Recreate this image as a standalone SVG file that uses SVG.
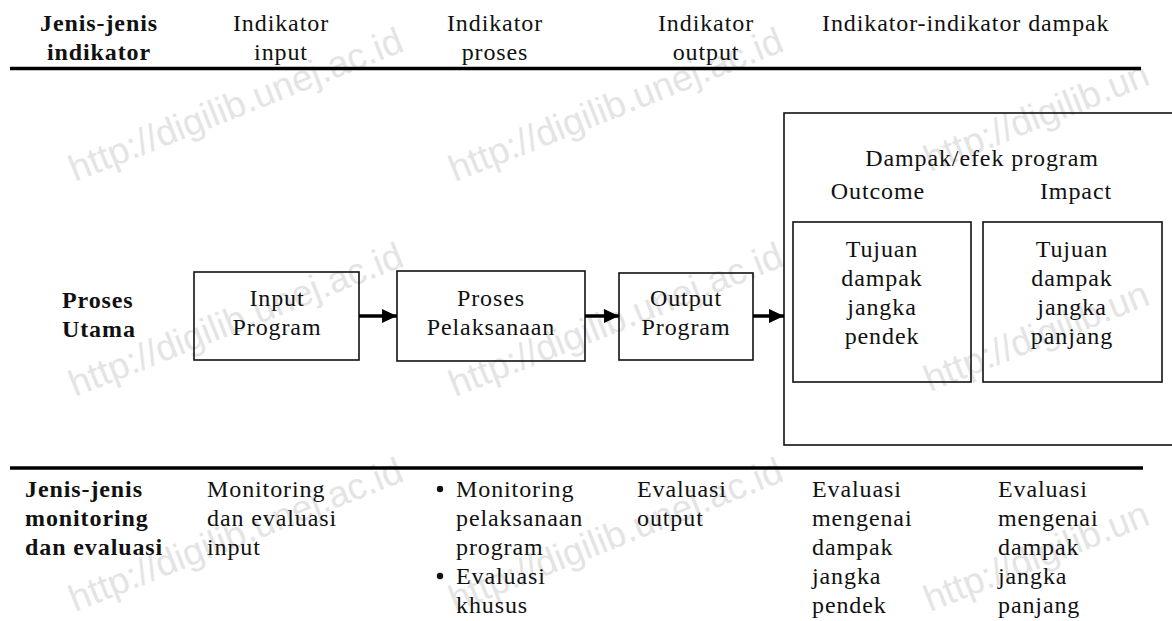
<svg xmlns="http://www.w3.org/2000/svg" width="1172" height="621" viewBox="0 0 1172 621">
<defs>
<style>
.t{font-family:"Liberation Serif","Times New Roman",serif;font-size:24px;letter-spacing:0.9px;fill:#111;}
.b{font-weight:bold;}
.c{text-anchor:middle;}
.box{fill:none;stroke:#111;stroke-width:1.6;}
.rule{stroke:#000;stroke-width:3.5;}
.arr{stroke:#000;stroke-width:3.5;fill:none;}
.wm{font-family:"Liberation Sans",Arial,sans-serif;font-size:37px;fill:#e4e4e4;}
</style>
<marker id="ah" markerUnits="userSpaceOnUse" markerWidth="15" markerHeight="14" refX="15" refY="7" orient="auto">
<path d="M0,0 L15,7 L0,14 z" fill="#000"/>
</marker>
</defs>
<rect width="1172" height="621" fill="#fff"/>
<g id="watermark">
<text class="wm" transform="translate(75,182) rotate(-21.7)">http://digilib.unej.ac.id</text>
<text class="wm" transform="translate(455,182) rotate(-21.7)">http://digilib.unej.ac.id</text>
<text class="wm" transform="translate(930,172) rotate(-21.7)">http://digilib.un</text>
<text class="wm" transform="translate(75,397) rotate(-21.7)">http://digilib.unej.ac.id</text>
<text class="wm" transform="translate(455,397) rotate(-21.7)">http://digilib.unej.ac.id</text>
<text class="wm" transform="translate(930,392) rotate(-21.7)">http://digilib.un</text>
<text class="wm" transform="translate(75,612) rotate(-21.7)">http://digilib.unej.ac.id</text>
<text class="wm" transform="translate(455,612) rotate(-21.7)">http://digilib.unej.ac.id</text>
<text class="wm" transform="translate(930,612) rotate(-21.7)">http://digilib.un</text>
</g>
<g id="header">
<text class="t b c" x="99" y="31">Jenis-jenis</text>
<text class="t b c" x="99" y="60">indikator</text>
<text class="t c" x="281" y="31">Indikator</text>
<text class="t c" x="281" y="60">input</text>
<text class="t c" x="495" y="31">Indikator</text>
<text class="t c" x="495" y="60">proses</text>
<text class="t c" x="706" y="31">Indikator</text>
<text class="t c" x="706" y="60">output</text>
<text class="t" x="822" y="31">Indikator-indikator dampak</text>
<line class="rule" x1="10" y1="68.5" x2="1141" y2="68.5"/>
</g>
<g id="row-label">
<text class="t b" x="62" y="308">Proses</text>
<text class="t b" x="62" y="337">Utama</text>
</g>
<g id="node-input">
<rect class="box" x="194" y="272" width="165" height="88"/>
<text class="t c" x="277" y="306">Input</text>
<text class="t c" x="277" y="335">Program</text>
</g>
<g id="node-proses">
<rect class="box" x="397" y="271" width="188" height="90"/>
<text class="t c" x="491" y="306">Proses</text>
<text class="t c" x="491" y="335">Pelaksanaan</text>
</g>
<g id="node-output">
<rect class="box" x="619" y="273" width="134" height="87"/>
<text class="t c" x="686" y="306">Output</text>
<text class="t c" x="686" y="335">Program</text>
</g>
<g id="node-dampak">
<rect class="box" x="784" y="113" width="420" height="332"/>
<text class="t c" x="982" y="166">Dampak/efek program</text>
<text class="t c" x="878" y="199">Outcome</text>
<text class="t c" x="1076" y="199">Impact</text>
</g>
<g id="node-outcome">
<rect class="box" x="793" y="222" width="178" height="160"/>
<text class="t c" x="882" y="257">Tujuan</text>
<text class="t c" x="882" y="286">dampak</text>
<text class="t c" x="882" y="315">jangka</text>
<text class="t c" x="882" y="344">pendek</text>
</g>
<g id="node-impact">
<rect class="box" x="983" y="222" width="179" height="160"/>
<text class="t c" x="1072" y="257">Tujuan</text>
<text class="t c" x="1072" y="286">dampak</text>
<text class="t c" x="1072" y="315">jangka</text>
<text class="t c" x="1072" y="344">panjang</text>
</g>
<g id="connectors">
<line class="arr" x1="359" y1="316" x2="397" y2="316" marker-end="url(#ah)"/>
<line class="arr" x1="585" y1="316" x2="619" y2="316" marker-end="url(#ah)"/>
<line class="arr" x1="753" y1="316" x2="784" y2="316" marker-end="url(#ah)"/>
</g>
<g id="footer">
<line class="rule" x1="10" y1="468" x2="1143" y2="468"/>
<text class="t b" x="25" y="497">Jenis-jenis</text>
<text class="t b" x="25" y="526">monitoring</text>
<text class="t b" x="25" y="555">dan evaluasi</text>
<text class="t" x="207" y="497">Monitoring</text>
<text class="t" x="207" y="526">dan evaluasi</text>
<text class="t" x="207" y="555">input</text>
<circle cx="440" cy="489" r="3.2" fill="#111"/>
<text class="t" x="456" y="497">Monitoring</text>
<text class="t" x="456" y="526">pelaksanaan</text>
<text class="t" x="456" y="555">program</text>
<circle cx="440" cy="576" r="3.2" fill="#111"/>
<text class="t" x="456" y="584">Evaluasi</text>
<text class="t" x="456" y="613">khusus</text>
<text class="t" x="637" y="497">Evaluasi</text>
<text class="t" x="637" y="526">output</text>
<text class="t" x="812" y="497">Evaluasi</text>
<text class="t" x="812" y="526">mengenai</text>
<text class="t" x="812" y="555">dampak</text>
<text class="t" x="812" y="584">jangka</text>
<text class="t" x="812" y="613">pendek</text>
<text class="t" x="998" y="497">Evaluasi</text>
<text class="t" x="998" y="526">mengenai</text>
<text class="t" x="998" y="555">dampak</text>
<text class="t" x="998" y="584">jangka</text>
<text class="t" x="998" y="613">panjang</text>
</g>
</svg>
